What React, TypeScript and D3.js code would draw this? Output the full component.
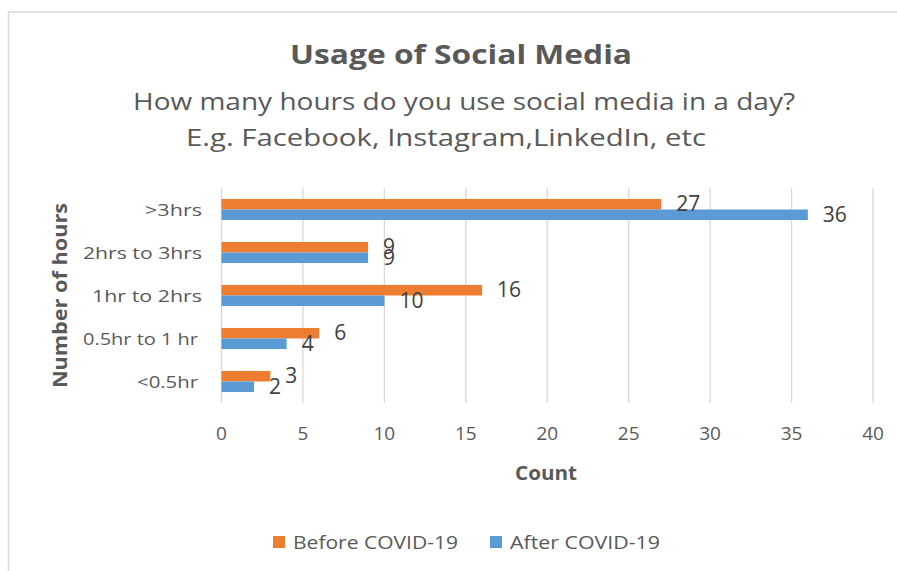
import React from "react";
import * as d3 from "d3";

const categories = [">3hrs", "2hrs to 3hrs", "1hr to 2hrs", "0.5hr to 1 hr", "<0.5hr"];
const categoryWidths = [57, 119, 110, 115, 61];
const seriesNames = ["Before COVID-19", "After COVID-19"];
const beforeValues = [27, 9, 16, 6, 3];
const afterValues = [36, 9, 10, 4, 2];
const xTicks = [0, 5, 10, 15, 20, 25, 30, 35, 40];
const colors = ["#ED7D31", "#5B9BD5"];

const W = 897;
const H = 571;
const FONT = "'Open Sans', sans-serif";

export default function App() {
  const x = d3.scaleLinear().domain([0, 40]).range([221.5, 873]);
  const y = d3.scaleBand<string>().domain(categories).range([188, 403]).paddingInner(0.51).paddingOuter(0.255);
  const inner = d3.scaleBand<string>().domain(seriesNames).range([0, y.bandwidth()]);
  const series = [beforeValues, afterValues];

  return (
    <svg width={W} height={H} style={{ position: "absolute", left: 0, top: 0, background: "#fff" }}>
      <rect x={0} y={0} width={W} height={H} fill="#fff" />
      <rect x={8.5} y={12} width={W + 10} height={H + 10} fill="none" stroke="#d9d9d9" strokeWidth={1.5} />
      <text x={290} y={64} textLength={342} lengthAdjust="spacingAndGlyphs" fontFamily={FONT} fontWeight="bold" fontSize={27} fill="#595959">
        Usage of Social Media
      </text>
      <text x={133} y={110} textLength={662} lengthAdjust="spacingAndGlyphs" fontFamily={FONT} fontSize={24} fill="#595959">
        How many hours do you use social media in a day?
      </text>
      <text x={186} y={146} textLength={520} lengthAdjust="spacingAndGlyphs" fontFamily={FONT} fontSize={24} fill="#595959">
        E.g. Facebook,  Instagram,LinkedIn, etc
      </text>
      {xTicks.map((t) => (
        <line key={"g" + t} x1={x(t)} x2={x(t)} y1={188} y2={403} stroke="#d9d9d9" strokeWidth={1.3} />
      ))}
      {xTicks.map((t) => (
        <text key={"t" + t} x={x(t)} y={440} textAnchor="middle" fontFamily={FONT} fontSize={19} fill="#595959">
          {t}
        </text>
      ))}
      {categories.map((c, i) => (
        <text key={"c" + c} x={(i === 3 || i === 4 ? 198 : 202) - categoryWidths[i]} y={(y(c) as number) + y.bandwidth() / 2 + 6} textLength={categoryWidths[i]} lengthAdjust="spacingAndGlyphs" fontFamily={FONT} fontSize={17} fill="#595959">
          {c}
        </text>
      ))}
      {series.map((vals, si) =>
        vals.map((v, i) => {
          const c = categories[i];
          const yy = (y(c) as number) + (inner(seriesNames[si]) as number);
          return (
            <rect key={`b${si}-${i}`} x={x(0)} y={yy} width={x(v) - x(0)} height={inner.bandwidth()} fill={colors[si]} />
          );
        })
      )}
      {series.map((vals, si) =>
        vals.map((v, i) => {
          const c = categories[i];
          const yy = (y(c) as number) + (inner(seriesNames[si]) as number) + inner.bandwidth() / 2;
          return (
            <text key={`l${si}-${i}`} x={x(v) + 15} y={yy + 7} fontFamily={FONT} fontSize={21} fill="#404040">
              {v}
            </text>
          );
        })
      )}
      <text x={515} y={480} textLength={62} lengthAdjust="spacingAndGlyphs" fontFamily={FONT} fontWeight="bold" fontSize={19} fill="#595959">
        Count
      </text>
      <text transform={`translate(67,388) rotate(-90)`} textLength={185} lengthAdjust="spacingAndGlyphs" fontFamily={FONT} fontWeight="bold" fontSize={19} fill="#595959">
        Number of hours
      </text>
      {seriesNames.map((s, si) => {
        const lx = si === 0 ? 273 : 490;
        const tw = si === 0 ? 165 : 150;
        return (
          <g key={"lg" + s}>
            <rect x={lx} y={536} width={12} height={12} fill={colors[si]} />
            <text x={lx + 20} y={549} textLength={tw} lengthAdjust="spacingAndGlyphs" fontFamily={FONT} fontSize={18} fill="#595959">
              {s}
            </text>
          </g>
        );
      })}
    </svg>
  );
}
